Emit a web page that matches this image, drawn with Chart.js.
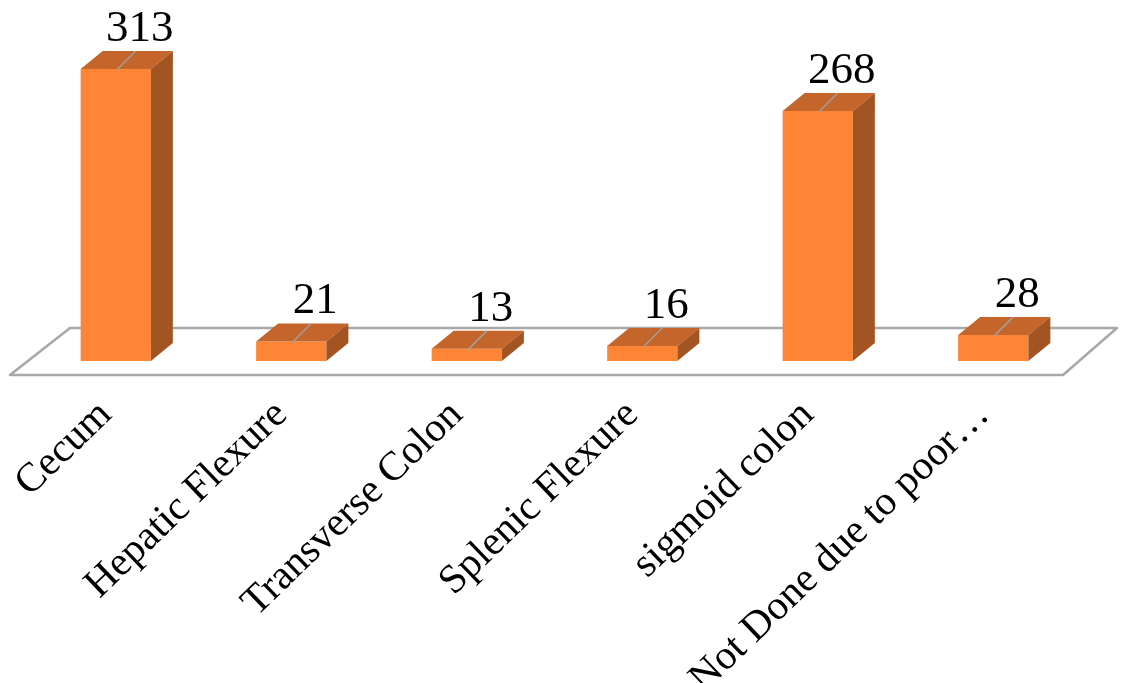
<!DOCTYPE html>
<html>
<head>
<meta charset="utf-8">
<script src="https://cdn.jsdelivr.net/npm/chart.js@4.4.0/dist/chart.umd.min.js"></script>
<style>
  html, body { margin: 0; padding: 0; background: #fff; }
  #wrap { width: 1124px; height: 683px; }
</style>
</head>
<body>
<div id="wrap"><canvas id="chart"></canvas></div>
<script>
// données
const categories = ['Cecum', 'Hepatic Flexure', 'Transverse Colon', 'Splenic Flexure', 'sigmoid colon', 'Not Done due to poor\u2026'];
const counts = [313, 21, 13, 16, 268, 28];
const yMax = 387;

const FONT = "'Liberation Serif', 'DejaVu Serif', serif";
const FRONT = '#fd8535';
const TOP = '#c4652b';
const SIDE = '#a25523';
const DX = 22, DY = -18;

// Faux 3D : sol + faces du dessus / côté + étiquettes
const bars3d = {
    id: 'bars3d',
    beforeDatasetsDraw(chart) {
        const ctx = chart.ctx;
        const a = chart.chartArea;
        const front = a.bottom + 14, back = a.bottom - 33;
        ctx.save();
        ctx.beginPath();
        ctx.moveTo(a.left - 18, front);
        ctx.lineTo(a.right - 18, front);
        ctx.lineTo(a.right + 36, back);
        ctx.lineTo(a.left + 42, back);
        ctx.closePath();
        ctx.fillStyle = '#ffffff';
        ctx.fill();
        ctx.lineWidth = 2.5;
        ctx.strokeStyle = '#a8a8a8';
        ctx.lineJoin = 'round';
        ctx.stroke();
        ctx.restore();
    },
    afterDatasetsDraw(chart) {
        const ctx = chart.ctx;
        const meta = chart.getDatasetMeta(0);
        ctx.save();
        meta.data.forEach(function(bar, i) {
            const p = bar.getProps(['x', 'y', 'base', 'width'], true);
            const l = p.x - p.width / 2, r = p.x + p.width / 2;

            // dessus
            ctx.beginPath();
            ctx.moveTo(l, p.y);
            ctx.lineTo(r, p.y);
            ctx.lineTo(r + DX, p.y + DY);
            ctx.lineTo(l + DX, p.y + DY);
            ctx.closePath();
            ctx.fillStyle = TOP;
            ctx.fill();

            // côté
            ctx.beginPath();
            ctx.moveTo(r, p.y);
            ctx.lineTo(r + DX, p.y + DY);
            ctx.lineTo(r + DX, p.base + DY);
            ctx.lineTo(r, p.base);
            ctx.closePath();
            ctx.fillStyle = SIDE;
            ctx.fill();

            // trait de rappel
            ctx.beginPath();
            ctx.moveTo(p.x + 1, p.y + 1);
            ctx.lineTo(p.x + 20, p.y - 18);
            ctx.lineWidth = 1.5;
            ctx.strokeStyle = '#a0a0a0';
            ctx.stroke();

            // valeur
            ctx.fillStyle = '#000';
            ctx.font = '45px ' + FONT;
            ctx.textAlign = 'center';
            ctx.textBaseline = 'alphabetic';
            ctx.fillText(String(counts[i]), p.x + 24, p.y - 28);
        });
        ctx.restore();
    }
};

const chart = new Chart(document.getElementById('chart'), {
    type: 'bar',
    data: {
        labels: categories,
        datasets: [{
            data: counts,
            backgroundColor: FRONT,
            borderWidth: 0,
            categoryPercentage: 1,
            barPercentage: 0.4
        }]
    },
    options: {
        responsive: true,
        maintainAspectRatio: false,
        animation: false,
        layout: { padding: { left: 28, right: 43, top: 0, bottom: 0 } },
        plugins: {
            legend: { display: false },
            tooltip: { enabled: false }
        },
        scales: {
            x: {
                grid: { display: false },
                border: { display: false },
                ticks: {
                    autoSkip: false,
                    minRotation: 44,
                    maxRotation: 44,
                    padding: 22,
                    labelOffset: -10,
                    color: '#000',
                    font: { family: FONT, size: 41 }
                },
                afterFit(scale) {
                    scale.height = 322;
                    scale.paddingLeft = 0;
                    scale.paddingRight = 0;
                }
            },
            y: {
                display: false,
                min: 0,
                max: yMax
            }
        }
    },
    plugins: [bars3d]
});
</script>
</body>
</html>
